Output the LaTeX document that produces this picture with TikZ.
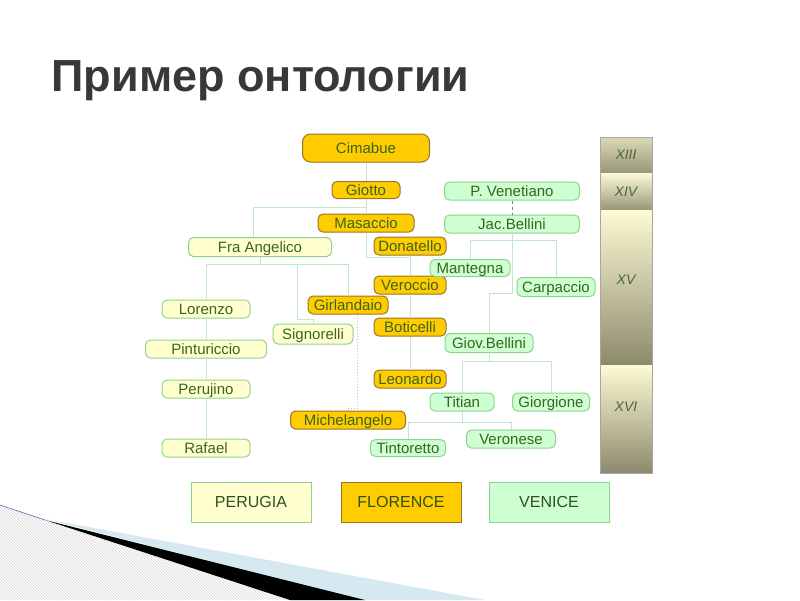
\documentclass[tikz,border=0pt]{standalone}
\usepackage{fontspec}
\setmainfont{Liberation Sans}
\usetikzlibrary{patterns}

\definecolor{gold}{RGB}{255,204,0}
\definecolor{goldedge}{RGB}{150,118,40}
\definecolor{paleyel}{RGB}{255,255,208}
\definecolor{palegrn}{RGB}{206,255,210}
\definecolor{grnedge}{RGB}{140,212,140}
\definecolor{txtgrn}{RGB}{60,100,30}
\definecolor{linegrn}{RGB}{190,232,200}
\definecolor{khaki}{RGB}{140,138,108}
\definecolor{cream}{RGB}{253,251,212}
\definecolor{swblue}{RGB}{214,232,240}

\begin{document}
\begin{tikzpicture}[x=1pt,y=-1pt,
  node/.style={rounded corners=5pt,line width=1pt,inner sep=0pt,minimum height=18,
    text height=11.5,text depth=1.5,text=txtgrn,font=\fontsize{15}{17}\selectfont},
  flor/.style={node,fill=gold,draw=goldedge},
  ven/.style={node,fill=palegrn,draw=grnedge},
  per/.style={node,fill=paleyel,draw=grnedge},
  legend/.style={line width=1pt,inner sep=0pt,minimum width=120,minimum height=40,
    text=txtgrn!80!black,font=\fontsize{16}{18}\selectfont},
  conn/.style={draw=linegrn,line width=1pt},
  age/.style={text=txtgrn!80!gray,font=\fontsize{14}{16}\selectfont\itshape}]
  \useasboundingbox (0,0) rectangle (800,600);

  % Title
  \node[anchor=base west,font=\fontsize{45}{50}\selectfont\bfseries,text=black!78]
    (title) at (48,91) {Пример онтологии};

  % Bottom-left swoosh
  \fill[pattern=north west lines,pattern color=gray!35] (0,505) -- (45,520) -- (290,600) -- (0,600) -- cycle;
  \fill[swblue] (45,519) -- (485,600) -- (365,600) -- cycle;
  \fill[black] (45,520) -- (365,600) -- (290,600) -- cycle;
  \draw[blue!30!gray,line width=0.6pt] (0,505) -- (45,520);

  % Centuries
  \shade[top color=cream!70!khaki,bottom color=khaki!90] (600,137) rectangle (652,173);
  \shade[top color=cream,bottom color=khaki!90] (600,173) rectangle (652,210);
  \shade[top color=cream,bottom color=khaki] (600,210) rectangle (652,365);
  \shade[top color=cream,bottom color=khaki] (600,365) rectangle (652,473);
  \draw[gray!70] (600,137) rectangle (652,473);
  \node[age] (c13) at (626,155) {XIII};
  \node[age] (c14) at (626,192) {XIV};
  \node[age] (c15) at (626,280) {XV};
  \node[age] (c16) at (626,407) {XVI};

  % Florence
  \node[flor,rounded corners=8pt,minimum width=127,minimum height=28] (cim) at (366,148) {Cimabue};
  \node[flor,minimum width=68,minimum height=17] (giotto) at (366,190) {Giotto};
  \node[flor,minimum width=96] (masaccio) at (366,223) {Masaccio};
  \node[flor,minimum width=72] (donat) at (410,246) {Donatello};
  \node[flor,minimum width=72] (veroc) at (410,285) {Veroccio};
  \node[flor,minimum width=80] (girl) at (348,305) {Girlandaio};
  \node[flor,minimum width=72] (botic) at (410,327) {Boticelli};
  \node[flor,minimum width=72] (leon) at (410,379) {Leonardo};
  \node[flor,minimum width=115] (mich) at (348,420) {Michelangelo};

  % Perugia
  \node[per,minimum width=143,minimum height=19] (fra) at (260,247) {Fra Angelico};
  \node[per,minimum width=88] (lor) at (206,309) {Lorenzo};
  \node[per,minimum width=80,minimum height=20] (sign) at (313,334) {Signorelli};
  \node[per,minimum width=121] (pint) at (206,349) {Pinturiccio};
  \node[per,minimum width=88] (peru) at (206,389) {Perujino};
  \node[per,minimum width=88] (raf) at (206,448) {Rafael};

  % Venice
  \node[ven,minimum width=135] (pven) at (512,191) {P. Venetiano};
  \node[ven,minimum width=135] (jac) at (512,224) {Jac.Bellini};
  \node[ven,minimum width=80,minimum height=17] (mant) at (470,268) {Mantegna};
  \node[ven,minimum width=78,minimum height=19] (carp) at (556,287) {Carpaccio};
  \node[ven,minimum width=88,minimum height=19] (giov) at (489,343) {Giov.Bellini};
  \node[ven,minimum width=64] (titian) at (462,402) {Titian};
  \node[ven,minimum width=77] (giorg) at (551,402) {Giorgione};
  \node[ven,minimum width=75,minimum height=17] (tint) at (408,448) {Tintoretto};
  \node[ven,minimum width=89] (veron) at (511,439) {Veronese};

  % Florentine links
  \draw[conn] (cim.south) -- (giotto.north);
  \draw[conn] (giotto.south) -- (masaccio.north);
  \draw[conn] (giotto.south) -- ++(0,8) -| ([xshift=-7]fra.north);
  \draw[conn] (masaccio.south) -- ++(0,25) -| (veroc.north);
  \draw[conn] (donat.south) -- (veroc.north);
  \draw[conn] (veroc.south) -- (botic.north);
  \draw[conn] (botic.south) -- (leon.north);
  \draw[conn,dotted,draw=gray!50] ([xshift=9]girl.south) -- ++(0,94) -| (mich.north);

  % Perugian links
  \draw[conn] (fra.south) -- ++(0,7) coordinate (fa);
  \coordinate (sg) at (297,319);
  \draw[conn] (fa) -| (lor.north);
  \draw[conn] (fa) -| (girl.north);
  \draw[conn] (fa) -| (sg) -| (sign.north);
  \draw[conn] (lor.south) -- (pint.north);
  \draw[conn] (pint.south) -- (peru.north);
  \draw[conn] (peru.south) -- (raf.north);

  % Venetian links
  \draw[dashed,gray] (pven.south) -- (jac.north);
  \draw[conn] (jac.south) -- ++(0,7) coordinate (jb);
  \draw[conn] (jb) -| (mant.north);
  \draw[conn] (jb) -| (carp.north);
  \draw[conn] (jb) -- ++(0,53) -| (giov.north);
  \draw[conn] (giov.south) -- ++(0,8) coordinate (gb);
  \draw[conn] (gb) -| (titian.north);
  \draw[conn] (gb) -| (giorg.north);
  \draw[conn] (titian.south) -- ++(0,11) coordinate (ti);
  \draw[conn] (ti) -| (tint.north);
  \draw[conn] (ti) -| (veron.north);

  % Legend
  \node[legend,fill=paleyel,draw=grnedge] (lperu) at (251,502) {PERUGIA};
  \node[legend,fill=gold,draw=goldedge] (lflor) at (401,502) {FLORENCE};
  \node[legend,fill=palegrn,draw=grnedge] (lven) at (549,502) {VENICE};

\end{tikzpicture}
\end{document}
